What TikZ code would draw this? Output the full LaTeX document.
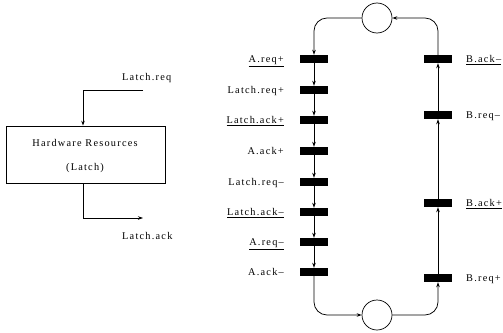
\documentclass[tikz,border=0pt]{standalone}
\usepackage{fontspec}
\setmainfont{Liberation Serif}[LetterSpace=12]
\usetikzlibrary{arrows.meta}

\begin{document}
\begin{tikzpicture}[x=1pt,y=-1pt,
  lbl/.style={font=\fontsize{10.3}{12}\selectfont, inner sep=0pt},
  bar/.style={fill=black, minimum width=28pt, minimum height=8pt, inner sep=0pt},
  place/.style={circle, draw, minimum size=30pt, inner sep=0pt, line width=0.7pt},
  wire/.style={line width=0.75pt},
  arr/.style={wire, -{Stealth[length=5pt,width=3.5pt]}},
  roundarc/.style={rounded corners=13pt},
  ]
\useasboundingbox (0,0) rectangle (503,332);

% hardware block with its handshake wires
\node[draw, wire, minimum width=159pt, minimum height=57pt, inner sep=0pt] (hw) at (85.5,154.5) {};
\node[lbl] (hwname) at (85,143) {Hardware Resources};
\node[lbl] (hwlatch) at (85,168) {(Latch)};
\coordinate (reqin) at (143,90);
\coordinate (ackout) at (143,218);
\draw[arr] (reqin) -| ([xshift=-2.5pt]hw.north);
\draw[arr] ([xshift=-2.5pt]hw.south) |- (ackout);
\node[lbl, anchor=base west] (reqlbl) at (122,80) {Latch.req};
\node[lbl, anchor=base west] (acklbl) at (122,239) {Latch.ack};

% places
\node[place] (ptop) at (377,18) {};
\node[place] (pbot) at (377,315) {};

% left cycle transitions
\node[bar] (a1) at (314,59) {};
\node[bar] (a2) at (314,90) {};
\node[bar] (a3) at (314,120) {};
\node[bar] (a4) at (314,151) {};
\node[bar] (a5) at (314,182) {};
\node[bar] (a6) at (314,212) {};
\node[bar] (a7) at (314,242) {};
\node[bar] (a8) at (314,272) {};

\node[lbl, anchor=base east] (la1) at (284,62.5) {\underline{A.req+}};
\node[lbl, anchor=base east] (la2) at (284,93.5) {Latch.req+};
\node[lbl, anchor=base east] (la3) at (284,123.5) {\underline{Latch.ack+}};
\node[lbl, anchor=base east] (la4) at (284,154.5) {A.ack+};
\node[lbl, anchor=base east] (la5) at (284,185.5) {Latch.req–};
\node[lbl, anchor=base east] (la6) at (284,215.5) {\underline{Latch.ack–}};
\node[lbl, anchor=base east] (la7) at (284,245.5) {\underline{A.req–}};
\node[lbl, anchor=base east] (la8) at (284,275.5) {A.ack–};

% right cycle transitions
\node[bar] (b1) at (438,59) {};
\node[bar] (b2) at (438,115) {};
\node[bar] (b3) at (438,203) {};
\node[bar] (b4) at (438,278) {};

\node[lbl, anchor=base west] (lb1) at (466,62.5) {\underline{B.ack–}};
\node[lbl, anchor=base west] (lb2) at (466,118.5) {B.req–};
\node[lbl, anchor=base west] (lb3) at (466,206.5) {\underline{B.ack+}};
\node[lbl, anchor=base west] (lb4) at (466,281.5) {B.req+};

% arcs
\draw[arr, roundarc] (ptop.west) -| (a1.north);
\draw[arr] (a1) -- (a2);
\draw[arr] (a2) -- (a3);
\draw[arr] (a3) -- (a4);
\draw[arr] (a4) -- (a5);
\draw[arr] (a5) -- (a6);
\draw[arr] (a6) -- (a7);
\draw[arr] (a7) -- (a8);
\draw[arr, roundarc] (a8.south) |- (pbot.west);

\draw[arr, roundarc] (pbot.east) -| (b4.south);
\draw[arr] (b4) -- (b3);
\draw[arr] (b3) -- (b2);
\draw[arr] (b2) -- (b1);
\draw[arr, roundarc] (b1.north) |- (ptop.east);
\end{tikzpicture}
\end{document}
